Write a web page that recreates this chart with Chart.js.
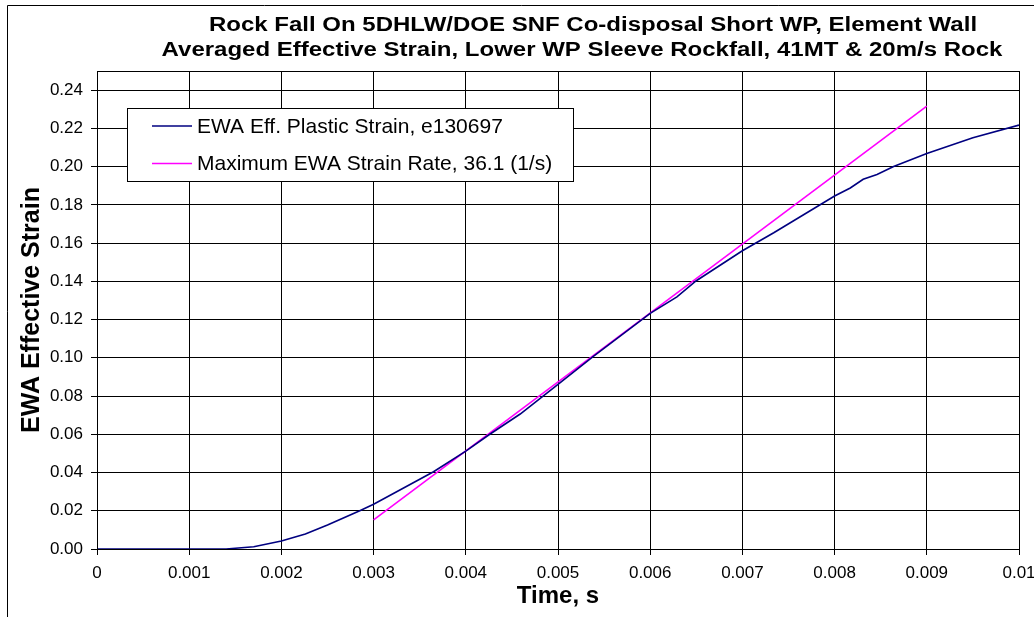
<!DOCTYPE html>
<html>
<head>
<meta charset="utf-8">
<script src="https://cdn.jsdelivr.net/npm/chart.js@4"></script>
<style>
  html, body { margin: 0; padding: 0; background: #fff; }
  #wrap { width: 1034px; height: 617px; }
</style>
</head>
<body>
<div id="wrap"><canvas id="strainChart" width="1034" height="617"></canvas></div>
<script>
// EWA plastic strain curve
const timeStrain = [0, 0.0005, 0.001, 0.0014, 0.0017, 0.002, 0.00226, 0.0025, 0.00285, 0.003,
    0.00365, 0.004, 0.00426, 0.00459, 0.005, 0.00538, 0.006, 0.00629, 0.0065, 0.007,
    0.00734, 0.008, 0.00817, 0.00831, 0.00846, 0.00864, 0.009, 0.0095, 0.01];
const valStrain = [0, 0, 0, 0, 0.0012, 0.0042, 0.0078, 0.0125, 0.020, 0.0234,
    0.0404, 0.0512, 0.060, 0.0706, 0.0861, 0.1006, 0.1232, 0.1319, 0.1403, 0.156,
    0.1654, 0.1846, 0.1888, 0.1934, 0.1959, 0.200, 0.2069, 0.2151, 0.2217];

// maximum strain rate line
const timeRate = [0.003, 0.009];
const valRate = [0.0152, 0.2316];

const titleLines = [
    "Rock Fall On 5DHLW/DOE SNF Co-disposal Short WP, Element Wall",
    "Averaged Effective Strain, Lower WP Sleeve Rockfall, 41MT & 20m/s Rock"
];
const serieNames = ["EWA Eff. Plastic Strain, e130697", "Maximum EWA Strain Rate, 36.1 (1/s)"];

const FONT = "'Liberation Sans', Arial, sans-serif";

function puntos(xs, ys) {
    return xs.map((x, i) => ({ x: x, y: ys[i] }));
}

// frame, plot border, title and the boxed legend
const decoracion = {
    id: "decoracion",
    beforeDraw(chart) {
        const ctx = chart.ctx;
        ctx.save();
        ctx.fillStyle = "#fff";
        ctx.fillRect(0, 0, chart.width, chart.height);
        ctx.strokeStyle = "#000";
        ctx.lineWidth = 1;
        ctx.beginPath();
        ctx.moveTo(7.5, chart.height + 5);
        ctx.lineTo(7.5, 5.5);
        ctx.lineTo(chart.width + 5, 5.5);
        ctx.stroke();
        ctx.restore();
    },
    afterDraw(chart) {
        const ctx = chart.ctx;
        const a = chart.chartArea;
        ctx.save();
        ctx.strokeStyle = "#000";
        ctx.lineWidth = 1;
        ctx.strokeRect(Math.round(a.left) + 0.5, Math.round(a.top) + 0.5,
            Math.round(a.right - a.left), Math.round(a.bottom - a.top));

        // title, a little wider than the plain font like the original
        ctx.fillStyle = "#000";
        ctx.font = "bold 20px " + FONT;
        ctx.textAlign = "center";
        ctx.textBaseline = "middle";
        [[593, 25], [582, 50]].forEach((p, i) => {
            ctx.save();
            ctx.translate(p[0], p[1]);
            ctx.scale(1.2, 1);
            ctx.fillText(titleLines[i], 0, 0);
            ctx.restore();
        });

        // legend
        ctx.fillStyle = "#fff";
        ctx.fillRect(127, 108, 446, 74);
        ctx.strokeRect(127.5, 108.5, 446, 73);
        ctx.font = "21px " + FONT;
        ctx.textAlign = "left";
        chart.data.datasets.forEach((ds, i) => {
            const y = 126 + i * 37.5;
            ctx.strokeStyle = ds.borderColor;
            ctx.lineWidth = 1.5;
            ctx.beginPath();
            ctx.moveTo(152, y);
            ctx.lineTo(192, y);
            ctx.stroke();
            ctx.fillStyle = "#000";
            ctx.fillText(ds.label, 197, y + 1);
        });
        ctx.restore();
    }
};

new Chart(document.getElementById("strainChart"), {
    type: "line",
    data: {
        datasets: [{
            label: serieNames[0],
            data: puntos(timeStrain, valStrain),
            borderColor: "#000080",
            borderWidth: 1.6,
            pointRadius: 0,
            tension: 0,
            fill: false
        }, {
            label: serieNames[1],
            data: puntos(timeRate, valRate),
            borderColor: "#FF00FF",
            borderWidth: 1.6,
            pointRadius: 0,
            tension: 0,
            fill: false
        }]
    },
    options: {
        responsive: false,
        animation: false,
        layout: { padding: { top: 71, right: 15, bottom: 0, left: 0 } },
        plugins: {
            legend: { display: false },
            title: { display: false },
            tooltip: { enabled: false }
        },
        scales: {
            x: {
                type: "linear",
                min: 0,
                max: 0.01,
                afterFit(scale) {
                    scale.height = 68;
                    scale.paddingLeft = 0;
                    scale.paddingRight = 0;
                },
                ticks: {
                    stepSize: 0.001,
                    color: "#000",
                    padding: 8,
                    maxRotation: 0,
                    autoSkip: false,
                    font: { family: FONT, size: 17 },
                    callback: v => String(Number(v.toFixed(3)))
                },
                grid: { color: "#000", lineWidth: 1, tickLength: 6 },
                border: { color: "#000" },
                title: {
                    display: true,
                    text: "Time, s",
                    color: "#000",
                    font: { family: FONT, size: 24, weight: "bold" },
                    padding: { top: 0, bottom: 6 }
                }
            },
            y: {
                min: 0,
                max: 0.25,
                afterFit(scale) {
                    scale.width = 97;
                    scale.paddingTop = 0;
                    scale.paddingBottom = 0;
                },
                ticks: {
                    stepSize: 0.02,
                    includeBounds: false,
                    color: "#000",
                    padding: 8,
                    font: { family: FONT, size: 17 },
                    callback: v => v.toFixed(2)
                },
                grid: { color: "#000", lineWidth: 1, tickLength: 6 },
                border: { color: "#000" },
                title: {
                    display: true,
                    text: "EWA Effective Strain",
                    color: "#000",
                    font: { family: FONT, size: 25, weight: "bold" },
                    padding: { top: 17, bottom: 0 }
                }
            }
        }
    },
    plugins: [decoracion]
});
</script>
</body>
</html>
